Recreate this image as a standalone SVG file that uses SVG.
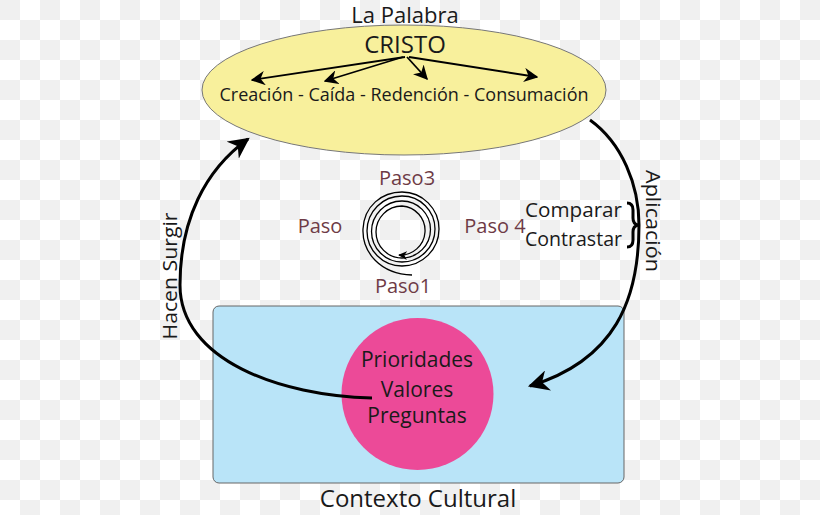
<svg xmlns="http://www.w3.org/2000/svg" width="820" height="515" viewBox="0 0 820 515">
<defs>
<pattern id="chk" width="40" height="40" patternUnits="userSpaceOnUse">
<rect width="40" height="40" fill="#ffffff"/>
<rect width="20" height="20" fill="#f0f0f0"/>
<rect x="20" y="20" width="20" height="20" fill="#f0f0f0"/>
</pattern>
<marker id="ah" viewBox="0 0 10 10" refX="9" refY="5" markerWidth="7" markerHeight="7" orient="auto" markerUnits="strokeWidth">
<path d="M0,0 L10,5 L0,10 L3,5 Z" fill="#000"/>
</marker>
<marker id="ahs" viewBox="0 0 10 10" refX="9" refY="5" markerWidth="8" markerHeight="8" orient="auto" markerUnits="strokeWidth">
<path d="M0,0 L10,5 L0,10 L3,5 Z" fill="#000"/>
</marker>
<marker id="ahb" viewBox="0 0 10 10" refX="9" refY="5" markerWidth="9" markerHeight="9" orient="auto" markerUnits="userSpaceOnUse">
<path d="M0,0 L10,5 L0,10 L3,5 Z" fill="#000"/>
</marker>
</defs>
<style>
text{font-family:"Open Sans","Liberation Sans",sans-serif;fill:#1a1a1a;text-anchor:middle}
.m{fill:#6e3b46;font-size:20px}
.st{text-anchor:start}
.arc{fill:none;stroke:#000;stroke-width:3}
.thin{fill:none;stroke:#000;stroke-width:1.8}
</style>
<rect width="820" height="515" fill="url(#chk)"/>

<g id="palabra">
<ellipse cx="404" cy="90" rx="202" ry="65" fill="#f8f09c" stroke="#777" stroke-width="1"/>
<text x="405" y="23" font-size="22">La Palabra</text>
<text x="405" y="53" font-size="24">CRISTO</text>
<text x="404" y="101" font-size="18">Creación - Caída - Redención - Consumación</text>
</g>

<g id="contexto">
<rect x="213" y="306" width="411" height="177" rx="6" fill="#b9e4f8" stroke="#666" stroke-width="1"/>
<circle cx="417.5" cy="394" r="76" fill="#ec4a98"/>
<text x="417" y="367" font-size="21">Prioridades</text>
<text x="417" y="397" font-size="21">Valores</text>
<text x="417" y="423" font-size="21">Preguntas</text>
<text x="418" y="507" font-size="24">Contexto Cultural</text>
</g>

<g id="pasos">
<path fill="none" stroke="#000" stroke-width="1.3" d="M412,275 C380,274 362,252 363,229 C364,206 382,192 402,192 A37,37 0 0 1 402,266 A35,35 0 0 1 402,196 A33,33 0 0 1 402,262 A30.5,30.5 0 0 1 402,201 A28.5,28.5 0 0 1 402,258 A26,26 0 0 1 402,206 A24.5,24.5 0 0 1 399,255" marker-end="url(#ahb)"/>
<text class="m" x="407" y="185">Paso3</text>
<text class="m" x="320" y="233">Paso</text>
<text class="m" x="495" y="233">Paso 4</text>
<text class="m" x="403" y="293">Paso1</text>
</g>

<g id="comparar">
<text class="st" x="525" y="217" font-size="20" textLength="97" lengthAdjust="spacingAndGlyphs">Comparar</text>
<text class="st" x="525" y="246" font-size="20" textLength="97" lengthAdjust="spacingAndGlyphs">Contrastar</text>
<path d="M627,203 Q633,203 633,210 L633,218 Q633,224 638,225 Q633,226 633,232 L633,240 Q633,247 627,247" fill="none" stroke="#000" stroke-width="3"/>
</g>

<g id="labels">
<text x="0" y="0" font-size="20" textLength="127" lengthAdjust="spacingAndGlyphs" transform="translate(177,276) rotate(-90)">Hacen Surgir</text>
<text x="0" y="0" font-size="20" textLength="102" lengthAdjust="spacingAndGlyphs" transform="translate(646,221) rotate(90)">Aplicación</text>
</g>

<g id="connectors">
<path class="thin" d="M405,57 L252,80" marker-end="url(#ahs)"/>
<path class="thin" d="M403,57 L325,81" marker-end="url(#ahs)"/>
<path class="thin" d="M407,57 L427,79" marker-end="url(#ahs)"/>
<path class="thin" d="M409,57 L537,77" marker-end="url(#ahs)"/>
<path class="arc" d="M372,398 C280,396 180,360 180,285 C180,220 205,170 248,139" marker-end="url(#ah)"/>
<path class="arc" d="M590,120 C622,143 639,185 639,225 C639,300 615,360 530,386" marker-end="url(#ah)"/>
</g>
</svg>
